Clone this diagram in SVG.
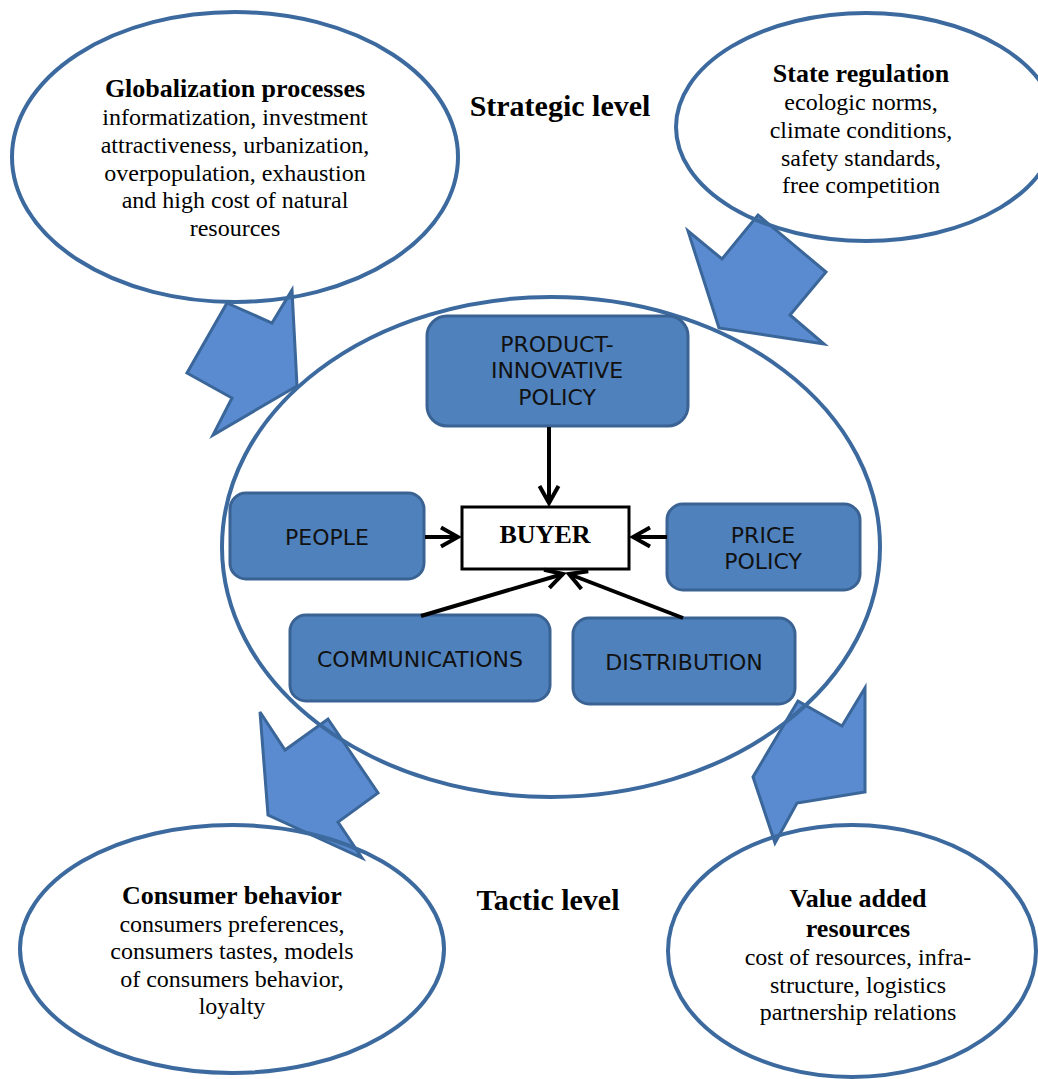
<svg xmlns="http://www.w3.org/2000/svg" width="1038" height="1079" viewBox="0 0 1038 1079">
<defs>
<style>
.ell{fill:none;stroke:#3C6A9F;stroke-width:4}
.blk{fill:#5A8BD0;stroke:#3A6699;stroke-width:3;stroke-linejoin:miter}
.box{fill:#4F81BD;stroke:#3A6394;stroke-width:3}
.bt{font-family:"DejaVu Sans",Verdana,sans-serif;font-size:22px;fill:#111;text-anchor:middle}
.tb{font-family:"Liberation Serif","Times New Roman",serif;font-weight:bold;font-size:26px;fill:#000;text-anchor:middle}
.tr{font-family:"Liberation Serif","Times New Roman",serif;font-size:24px;fill:#000;text-anchor:middle}
.lvl{font-family:"Liberation Serif","Times New Roman",serif;font-weight:bold;font-size:30px;fill:#000;text-anchor:middle}
.con{stroke:#000;stroke-width:4;fill:none}
</style>
<marker id="ah" markerUnits="userSpaceOnUse" viewBox="-20 -12 23 24" markerWidth="23" markerHeight="24" refX="0" refY="0" orient="auto">
<path d="M-17,-9.5 L0,0 L-17,9.5" fill="none" stroke="#000" stroke-width="4"/>
</marker>
</defs>
<rect width="1038" height="1079" fill="#fff"/>

<g id="block-arrows">
<polygon class="blk" points="227,303 272,323 292,290 297,386 213,435 232,398 187,373"/>
<polygon class="blk" points="688,231 722,259 758,215 826,272 790,315 824,344 719,328"/>
<polygon class="blk" points="260,712 285,750 328,719 378,793 338,822 362,858 268,815"/>
<polygon class="blk" points="798,701 842,726 865,688 865,792 797,803 775,843 753,777"/>
</g>

<g id="globalization">
<ellipse class="ell" cx="235" cy="157" rx="223" ry="145"/>
<text class="tb" x="235" y="97">Globalization processes</text>
<text class="tr" x="235" y="125">informatization, investment</text>
<text class="tr" x="235" y="153">attractiveness, urbanization,</text>
<text class="tr" x="235" y="181">overpopulation, exhaustion</text>
<text class="tr" x="235" y="208">and high cost of natural</text>
<text class="tr" x="235" y="236">resources</text>
</g>

<g id="state-regulation">
<ellipse class="ell" cx="866" cy="127" rx="190" ry="114"/>
<text class="tb" x="861" y="82">State regulation</text>
<text class="tr" x="861" y="110">ecologic norms,</text>
<text class="tr" x="861" y="138">climate conditions,</text>
<text class="tr" x="861" y="166">safety standards,</text>
<text class="tr" x="861" y="193">free competition</text>
</g>

<g id="consumer-behavior">
<ellipse class="ell" cx="232" cy="949" rx="212" ry="124"/>
<text class="tb" x="232" y="904">Consumer behavior</text>
<text class="tr" x="232" y="932">consumers preferences,</text>
<text class="tr" x="232" y="959">consumers tastes, models</text>
<text class="tr" x="232" y="987">of consumers behavior,</text>
<text class="tr" x="232" y="1014">loyalty</text>
</g>

<g id="value-added">
<ellipse class="ell" cx="852" cy="951" rx="184" ry="126"/>
<text class="tb" x="858" y="907">Value added</text>
<text class="tb" x="858" y="937">resources</text>
<text class="tr" x="858" y="965">cost of resources, infra-</text>
<text class="tr" x="858" y="993">structure, logistics</text>
<text class="tr" x="858" y="1020">partnership relations</text>
</g>

<g id="central">
<ellipse class="ell" cx="551" cy="547" rx="329" ry="250"/>
</g>

<g id="strategic-level"><text class="lvl" x="560" y="116">Strategic level</text></g>
<g id="tactic-level"><text class="lvl" x="548" y="910">Tactic level</text></g>

<g id="product-innovative-policy">
<rect class="box" x="427" y="316" width="261" height="110" rx="20"/>
<text class="bt" x="557" y="352">PRODUCT-</text>
<text class="bt" x="557" y="378">INNOVATIVE</text>
<text class="bt" x="557" y="405">POLICY</text>
</g>
<g id="people">
<rect class="box" x="230" y="493" width="194" height="86" rx="16"/>
<text class="bt" x="327" y="545">PEOPLE</text>
</g>
<g id="price-policy">
<rect class="box" x="667" y="504" width="193" height="86" rx="16"/>
<text class="bt" x="763" y="543">PRICE</text>
<text class="bt" x="763" y="569">POLICY</text>
</g>
<g id="communications">
<rect class="box" x="290" y="615" width="260" height="86" rx="16"/>
<text class="bt" x="420" y="667">COMMUNICATIONS</text>
</g>
<g id="distribution">
<rect class="box" x="573" y="618" width="222" height="86" rx="16"/>
<text class="bt" x="684" y="670">DISTRIBUTION</text>
</g>
<g id="buyer">
<rect x="462" y="507" width="167" height="62" fill="#fff" stroke="#000" stroke-width="3"/>
<text class="tb" x="545" y="543">BUYER</text>
</g>

<g id="connectors">
<line class="con" x1="549" y1="427" x2="549" y2="503" marker-end="url(#ah)"/>
<line class="con" x1="425" y1="537" x2="458" y2="537" marker-end="url(#ah)"/>
<line class="con" x1="667" y1="537" x2="633" y2="537" marker-end="url(#ah)"/>
<line class="con" x1="421" y1="616" x2="563" y2="574" marker-end="url(#ah)"/>
<line class="con" x1="683" y1="618" x2="569" y2="574" marker-end="url(#ah)"/>
</g>
</svg>
